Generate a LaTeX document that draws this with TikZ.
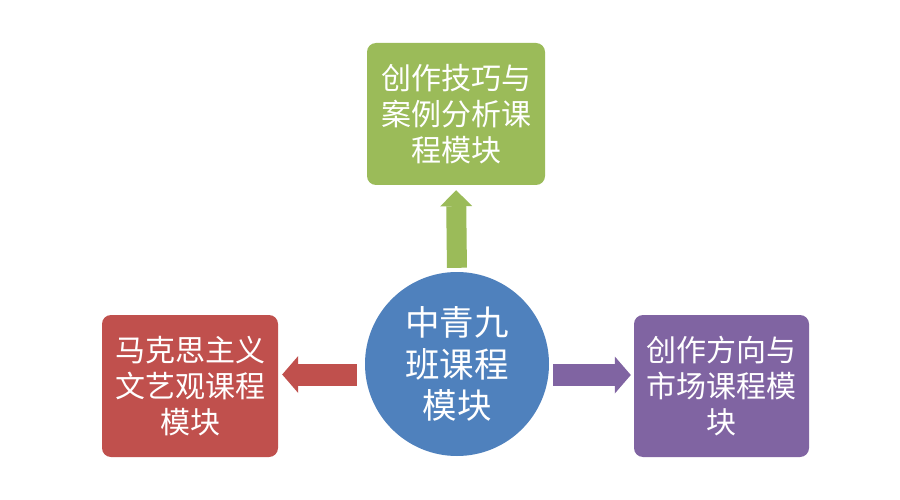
\documentclass[tikz,border=0pt]{standalone}
\usepackage{fontspec}
\setmainfont{Noto Sans CJK SC}
\usetikzlibrary{arrows.meta}
\definecolor{cblue}{HTML}{4F81BD}
\definecolor{cgreen}{HTML}{9BBB59}
\definecolor{cred}{HTML}{C0504D}
\definecolor{cpurple}{HTML}{8064A2}
\tikzset{
  modbox/.style={rectangle, rounded corners=9pt, inner sep=0pt, text=white, align=center,
    font=\fontsize{30pt}{36pt}\selectfont},
  hubcircle/.style={circle, fill=cblue, inner sep=0pt, minimum size=184pt, text=white, align=center,
    font=\fontsize{34.5pt}{41.5pt}\selectfont},
  harrow/.style={line width=22pt, -{Triangle[length=16pt,width=37pt,line width=0pt]}},
  varrow/.style={line width=20pt, -{Triangle[length=16pt,width=32pt,line width=0pt]}}
}
\begin{document}
\begin{tikzpicture}[x=1pt,y=-1pt]
\useasboundingbox[fill=white] (0,0) rectangle (900,500);
\node[hubcircle] (c) at (457,364) {中青九\\班课程\\模块};
\node[modbox, fill=cgreen, minimum width=178pt, minimum height=142pt] (t) at (456,114) {创作技巧与\\案例分析课\\程模块};
\node[modbox, fill=cred, minimum width=176pt, minimum height=142pt] (l) at (190,386) {马克思主义\\文艺观课程\\模块};
\node[modbox, fill=cpurple, minimum width=175pt, minimum height=142pt] (r) at (721.5,386) {创作方向与\\市场课程模\\块};
\draw[varrow, draw=cgreen, fill=cgreen, shorten <=4pt, shorten >=5pt] (c.north) -- (t.south);
\draw[harrow, draw=cred, fill=cred, shorten <=8pt, shorten >=4pt] ([yshift=-10.5pt]c.west) -- ([yshift=11.5pt]l.east);
\draw[harrow, draw=cpurple, fill=cpurple, shorten <=4pt, shorten >=3pt] ([yshift=-11pt]c.east) -- ([yshift=11pt]r.west);
\end{tikzpicture}
\end{document}
